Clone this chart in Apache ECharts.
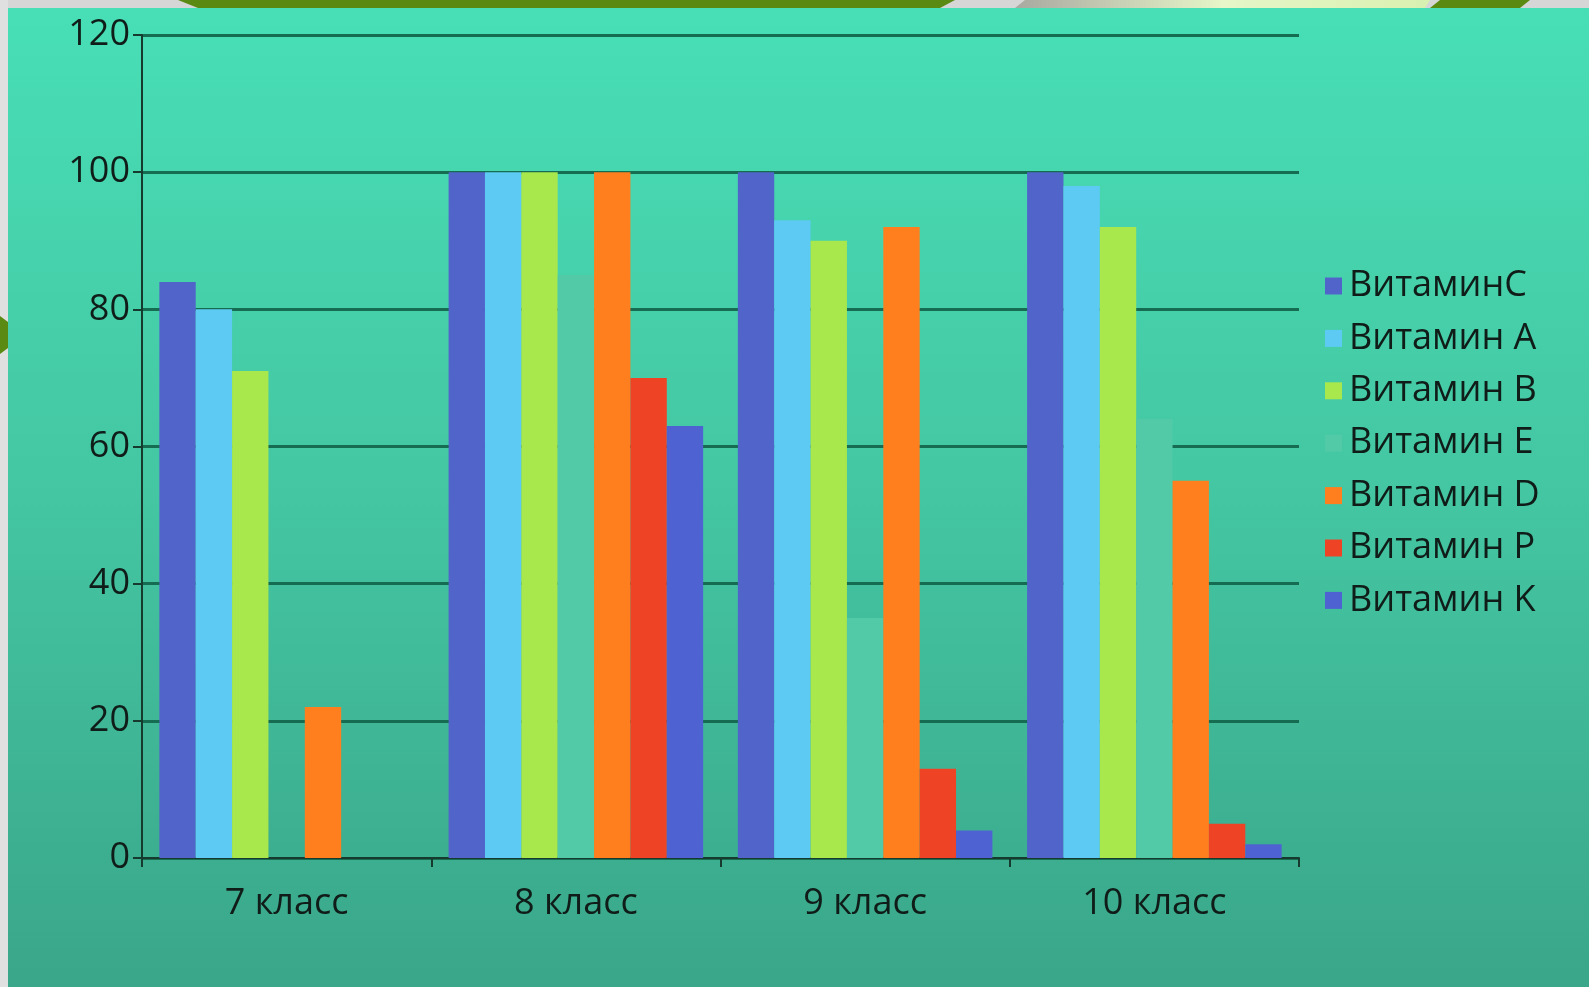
<!DOCTYPE html>
<html>
<head>
<meta charset="utf-8">
<script src="https://cdn.jsdelivr.net/npm/echarts@6/dist/echarts.min.js"></script>
<style>html,body{margin:0;padding:0;background:#dcdcdc;}#c{width:1589px;height:987px;}</style>
</head>
<body>
<div id="c"></div>
<script>
const categories = ['7 класс', '8 класс', '9 класс', '10 класс'];
const seriesNames = ['ВитаминC', 'Витамин A', 'Витамин B', 'Витамин E', 'Витамин D', 'Витамин P', 'Витамин K'];
const vitC = [84, 100, 100, 100];
const vitA = [80, 100, 93, 98];
const vitB = [71, 100, 90, 92];
const vitE = [0, 85, 35, 64];
const vitD = [22, 100, 92, 55];
const vitP = [0, 70, 13, 5];
const vitK = [0, 63, 4, 2];
const yTicks = [0, 20, 40, 60, 80, 100, 120];

const values = [vitC, vitA, vitB, vitE, vitD, vitP, vitK];
const colors = ['#5164c9', '#5ccaf2', '#a8e84c', '#52caa8', '#ff7f1f', '#ee4324', '#4e62d2'];

const chart = echarts.init(document.getElementById('c'));
const font = '"Open Sans", "DejaVu Sans", sans-serif';
chart.setOption({
  backgroundColor: 'transparent',
  animation: false,
  graphic: [
    { type: 'rect', z: -10, shape: { x: 8, y: 8, width: 1581, height: 979 },
      style: { fill: new echarts.graphic.LinearGradient(0, 0, 0, 1, [
        { offset: 0, color: '#48dfb6' }, { offset: 0.5, color: '#44c6a2' }, { offset: 1, color: '#3aa68a' }]) } },
    { type: 'rect', z: -9, shape: { x: 0, y: 0, width: 1589, height: 8 }, style: { fill: '#d6d6d6' } },
    { type: 'polygon', z: -8, shape: { points: [[178, 0], [955, 0], [940, 8], [198, 8]] }, style: { fill: '#5a8a12' } },
    { type: 'polygon', z: -8, shape: { points: [[1025, 0], [1430, 0], [1425, 8], [1015, 8]] },
      style: { fill: new echarts.graphic.LinearGradient(0, 0, 1, 0, [
        { offset: 0, color: '#a8a8a0' }, { offset: 0.5, color: '#e6f6c8' }, { offset: 1, color: '#d8f0b0' }]) } },
    { type: 'polygon', z: -8, shape: { points: [[1440, 0], [1530, 0], [1520, 8], [1430, 8]] }, style: { fill: '#5a8a12' } },
    { type: 'rect', z: -9, shape: { x: 0, y: 0, width: 8, height: 987 }, style: { fill: '#e0e0e0' } },
    { type: 'polygon', z: -8, shape: { points: [[0, 316], [8, 322], [8, 348], [0, 354]] }, style: { fill: '#5a8a12' } }
  ],
  grid: { left: 142, right: 290, top: 35, bottom: 129, containLabel: false },
  legend: {
    orient: 'vertical', left: 1320, top: 261,
    itemWidth: 17, itemHeight: 17, itemGap: 12.4,
    icon: 'rect',
    textStyle: { fontFamily: font, fontSize: 36, color: '#101c18', padding: [0, 0, 0, 2], lineHeight: 40 },
    data: seriesNames
  },
  xAxis: {
    type: 'category', data: categories,
    axisLine: { lineStyle: { color: '#163a2e', width: 2 } },
    axisTick: { show: true, length: 9, lineStyle: { color: '#163a2e', width: 2 } },
    axisLabel: { fontFamily: font, fontSize: 36, color: '#101c18', margin: 28 }
  },
  yAxis: {
    type: 'value', min: 0, max: 120, interval: 20,
    axisLine: { show: true, lineStyle: { color: '#163a2e', width: 2 } },
    axisTick: { show: true, length: 9, lineStyle: { color: '#163a2e', width: 2 } },
    axisLabel: { fontFamily: font, fontSize: 36, color: '#101c18', margin: 12,
      formatter: v => yTicks.includes(v) ? String(v) : '' },
    splitLine: { lineStyle: { color: '#156c50', width: 3 } }
  },
  series: seriesNames.map((n, i) => ({
    name: n, type: 'bar', data: values[i],
    barGap: '0%', barCategoryGap: '12%',
    itemStyle: { color: colors[i] }
  }))
});
</script>
</body>
</html>
